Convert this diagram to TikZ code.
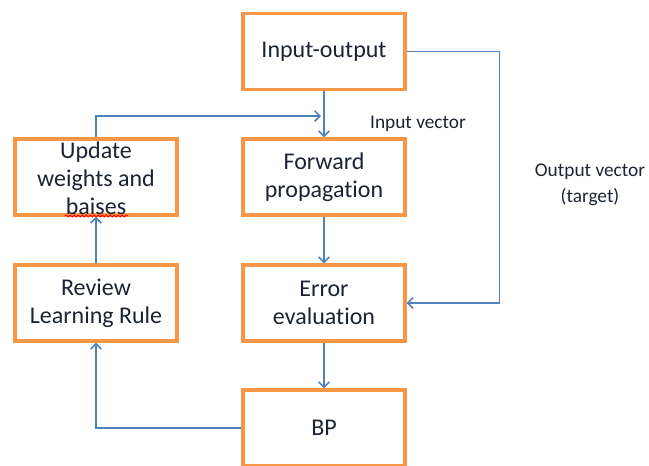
\documentclass[tikz,border=0pt]{standalone}
\usepackage{fontspec}
\setmainfont{Carlito}[Ligatures=NoCommon]
\usepackage{tikz}
\usetikzlibrary{arrows.meta}
\usetikzlibrary{positioning}
\usetikzlibrary{decorations.pathmorphing}
\definecolor{boxorange}{HTML}{F79646}
\definecolor{linkblue}{HTML}{4F81BD}
\definecolor{inkdark}{HTML}{1C2433}
\tikzstyle{stage}=[draw=boxorange,line width=2.6pt,fill=white,rectangle,minimum width=121.5pt,minimum height=57pt,inner sep=0pt,align=center,text=inkdark,font=\fontsize{18}{21}\selectfont]

\begin{document}
\begin{tikzpicture}[
  x=0.75pt,y=-0.75pt,
  link/.style={draw=linkblue,line width=1.1pt,-{Straight Barb[length=4pt,width=8pt]}},
  tag/.style={text=inkdark,font=\fontsize{14.5}{19}\selectfont,align=center,inner sep=0pt},
  squiggle/.style={draw=red,line width=0.6pt,decorate,decoration={snake,amplitude=0.8pt,segment length=3pt}},
]
\useasboundingbox (0,0) rectangle (649,465);
  % main column
  \node[stage] (io)  at (324,51.5) {Input-output};
  \node[stage] (fwd) at (324,177) {Forward\\propagation};
  \node[stage] (err) at (324,303) {Error\\evaluation};
  \node[stage] (bp)  at (324,428) {BP};
  % left column
  \node[stage] (upd) at (96,177) {\smash{\raisebox{-0.4em}{\begin{tabular}{@{}c@{}}Update\\weights and\\baises\end{tabular}}}};
  \node[stage] (rev) at (96,303) {Review\\Learning Rule};
  \draw[squiggle] ([shift={(-31,39)}]upd.center) -- ([shift={(32,39)}]upd.center);
  % labels
  \node[tag] (invec) at (418,124) {Input vector};
  \node[tag] (outvec) at (590,185) {Output vector\\(target)};
  \coordinate (merge) at (321,116);
  \draw[link] (io) -- (fwd);
  \draw[link] (fwd) -- (err);
  \draw[link] (err) -- (bp);
  \draw[link] (io.east) -- ++(93,0) |- (err.east);
  \draw[link] (upd.north) |- (merge);
  \draw[link] (bp.west) -| (rev.south);
  \draw[link] (rev) -- (upd);
\end{tikzpicture}
\end{document}
